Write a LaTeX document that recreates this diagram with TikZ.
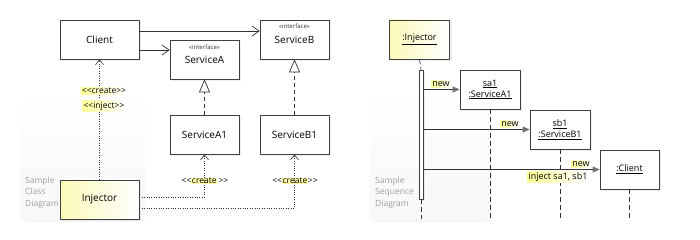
\documentclass[tikz,border=0pt]{standalone}
\usepackage{fontspec}
\setmainfont{Open Sans}
\usetikzlibrary{arrows.meta,shadows}
\newcommand\myll{<\kern0pt<}
\newcommand\mygg{>\kern0pt>}
\newcommand\hlite[1]{{\setlength{\fboxsep}{0.6pt}\colorbox{yellow!35}{#1}}}
\begin{document}
\begin{tikzpicture}[x=1pt,y=-1pt,
  shadowed/.style={drop shadow={opacity=0.12,shadow xshift=2pt,shadow yshift=-2pt}},
  cls/.style={draw=black!75,line width=0.7pt,fill=white,inner sep=0pt,align=center,
    font=\fontsize{10}{12}\selectfont,minimum width=79pt,minimum height=39pt,shadowed},
  iface/.style={cls,minimum width=69pt},
  stereo/.style={font=\fontsize{6}{7}\selectfont,inner sep=0pt,text=black!80},
  obj/.style={draw=black!75,line width=0.7pt,fill=white,inner sep=0pt,align=center,
    font=\fontsize{9}{11}\selectfont,minimum width=60pt,minimum height=39pt,shadowed},
  yel/.style={left color={rgb,255:red,250;green,250;blue,185},right color=white},
  assoc/.style={draw=black!80,line width=0.7pt,-{Straight Barb[length=7pt,width=10pt,line width=0.7pt]}},
  real/.style={draw=black!80,line width=0.7pt,dash pattern=on 4pt off 3pt,-{Triangle[open,length=13pt,width=11pt,line width=0.7pt,fill=white]}},
  dep/.style={draw=black!80,line width=0.7pt,dash pattern=on 0.8pt off 1.6pt,-{Straight Barb[length=5pt,width=8pt,line width=0.6pt,sep=0pt]}},
  life/.style={draw=black!80,line width=0.7pt,dash pattern=on 5pt off 3pt},
  msg/.style={draw=black!80,line width=0.7pt,-{Triangle[length=7pt,width=6pt,color=black!55]}},
  lbl/.style={font=\fontsize{8.5}{10}\selectfont,inner sep=1pt},
  hl/.style={lbl,left color=yellow!40,right color=white},
  sample/.style={font=\fontsize{8.5}{11.5}\selectfont,text=black!38,align=left,inner sep=0pt}]
\path[use as bounding box,fill=white] (0,0) rectangle (700,240);
% faint panels
\shade[top color=white,bottom color=black!3,rounded corners=6pt] (20,90) rectangle (145,222);
\shade[top color=white,bottom color=black!3,rounded corners=6pt] (370,90) rectangle (492,222);
% ---------- class diagram ----------
\node[sample,anchor=north west] (scd) at (25,176.5) {Sample\\Class\\Diagram};
\node[cls] (client) at (99.5,39.5) {Client};
\node[iface] (serviceA) at (204.5,59.5) {ServiceA};
\node[stereo] (sAst) at ([yshift=-8pt]serviceA.north) {«interface»};
\node[iface] (serviceB) at (294.5,39.5) {ServiceB};
\node[stereo] (sBst) at ([yshift=-7pt]serviceB.north) {«interface»};
\node[iface] (serviceA1) at (204.5,134.5) {ServiceA1};
\node[iface] (serviceB1) at (294.5,134.5) {ServiceB1};
\node[cls,yel] (injector) at (99.5,199.5) {Injector};
% labels for create (drawn before lines)
\node[lbl] (cA) at (205,181) {\myll\hlite{create}\,\mygg};
\node[lbl] (cB) at (295,181) {\myll\hlite{create}\mygg};
% connectors
\draw[assoc] ([yshift=8.5pt]client.east) -- ([yshift=8.5pt]serviceB.west);
\draw[assoc] ([yshift=-10.5pt]client.east) -- ([yshift=9.5pt]serviceA.west);
\draw[real] (serviceA1.north) -- (serviceA.south);
\draw[real] (serviceB1.north) -- (serviceB.south);
\draw[dep] (injector.north) -- (client.south);
\draw[dep] ([yshift=2.5pt]injector.east) -| (serviceA1.south);
\draw[dep] ([yshift=-8.5pt]injector.east) -| (serviceB1.south);
\node[hl] (lc) at (104,91) {\myll create\mygg};
\node[hl] (li) at (104,106) {\myll inject\mygg};
% ---------- sequence diagram ----------
\node[sample,anchor=north west] (ssd) at (375,176.5) {Sample\\Sequence\\Diagram};
\node[obj,yel] (inj2) at (419.5,39.5) {\underline{:Injector}};
\node[obj] (sa1) at (490,89.5) {\underline{sa1}\\\underline{:ServiceA1}};
\node[obj] (sb1) at (560,129.5) {\underline{sb1}\\\underline{:ServiceB1}};
\node[obj,minimum width=59pt] (cl2) at (629.5,169.5) {\underline{:Client}};
\coordinate (lifeend) at (421,219);
\node[draw=black!75,line width=0.7pt,fill=white,minimum width=4pt,minimum height=129pt,inner sep=0pt,shadowed] (act) at (421,134.5) {};
\draw[life] (inj2.south) -- (act.north);
\draw[life] (act.south) -- (lifeend);
\draw[life] (sa1.south) -- (sa1.south |- lifeend);
\draw[life] (sb1.south) -- (sb1.south |- lifeend);
\draw[life] (cl2.south) -- (cl2.south |- lifeend);
\node[hl,font=\fontsize{9}{10}\selectfont] (n1) at (441,84) {new};
\node[hl,font=\fontsize{9}{10}\selectfont] (n2) at (510,124) {new};
\node[hl,font=\fontsize{9}{10}\selectfont] (n3) at (581,164) {new};
\node[hl,font=\fontsize{9}{10}\selectfont] (n4) at (558,177) {inject sa1, sb1};
\draw[msg] (act.east |- sa1.west) -- (sa1.west);
\draw[msg] (act.east |- sb1.west) -- (sb1.west);
\draw[msg] (act.east |- cl2.west) -- (cl2.west);
\end{tikzpicture}
\end{document}
